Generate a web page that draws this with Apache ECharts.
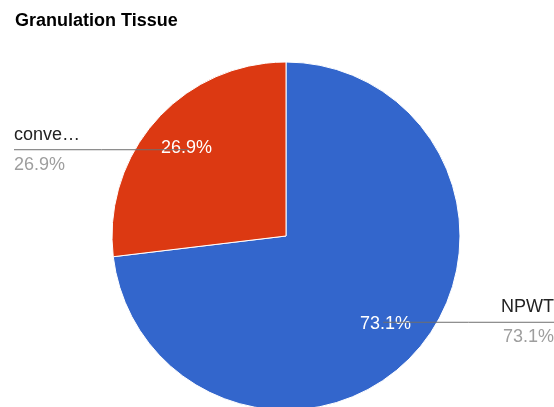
<!DOCTYPE html>
<html>
<head>
<meta charset="utf-8">
<script src="https://cdn.jsdelivr.net/npm/echarts@6/dist/echarts.min.js"></script>
<style>
  html, body { margin: 0; padding: 0; background: #fff; }
  #chart { width: 554px; height: 407px; }
</style>
</head>
<body>
<div id="chart"></div>
<script>
// Slice names and shares (percent of cases)
const categories = ['NPWT', 'conventional'];
const shares = [73.1, 26.9];
const sliceColors = ['#3366cc', '#dc3912'];

const FONT = '"Liberation Sans", Arial, sans-serif';
const CX = 286, CY = 236, R = 174;
const INNER = 86;                       // inner edge of the label ring
const ANCHOR_R = (INNER + R) / 2;       // where inside labels sit
const LEFT_X = 14, RIGHT_X = 554;       // outer label edges

const pieData = categories.map((name, i) => ({
  name,
  value: shares[i],
  itemStyle: { color: sliceColors[i] }
}));
const ghostData = categories.map((name, i) => ({ name, value: shares[i] }));

const total = shares.reduce((a, b) => a + b, 0);
// middle angle (degrees, counter-clockwise from 3 o'clock) of slice i,
// slices running clockwise from 12 o'clock
function midAngle(i) {
  let before = 0;
  for (let k = 0; k < i; k++) before += shares[k];
  return 90 - 360 * (before + shares[i] / 2) / total;
}
function anchorPoint(i) {
  const a = midAngle(i) * Math.PI / 180;
  return [CX + ANCHOR_R * Math.cos(a), CY - ANCHOR_R * Math.sin(a)];
}
function isRight(i) {
  return Math.cos(midAngle(i) * Math.PI / 180) > 0;
}
function shortName(name) {
  return name.length > 5 ? name.slice(0, 5) + '\u2026' : name;
}

// transparent copy of the pie that only carries labels
const ring = {
  type: 'pie',
  center: [CX, CY],
  startAngle: 90,
  clockwise: true,
  silent: true,
  avoidLabelOverlap: false,
  itemStyle: { color: 'rgba(0,0,0,0)', borderWidth: 0 },
  data: ghostData
};

const chart = echarts.init(document.getElementById('chart'), null, { renderer: 'canvas' });
chart.setOption({
  animation: false,
  backgroundColor: '#fff',
  title: {
    text: 'Granulation Tissue',
    left: 15,
    top: 12,
    padding: 0,
    textStyle: { fontFamily: FONT, fontSize: 18, fontWeight: 'bold', color: '#000' }
  },
  series: [
    {
      // the slices themselves
      type: 'pie',
      z: 2,
      center: [CX, CY],
      radius: [0, R],
      startAngle: 90,
      clockwise: true,
      silent: true,
      label: { show: false },
      labelLine: { show: false },
      itemStyle: { borderColor: '#fff', borderWidth: 1 },
      data: pieData
    },
    Object.assign({}, ring, {
      // white percentages inside the slices
      z: 3,
      radius: [INNER, R],
      label: {
        show: true,
        position: 'inside',
        formatter: p => p.percent.toFixed(1) + '%',
        fontFamily: FONT,
        fontSize: 18,
        color: '#fff',
        textBorderWidth: 0
      },
      labelLine: { show: false }
    }),
    Object.assign({}, ring, {
      // outer name / share labels with their leader lines
      z: 4,
      radius: [0, R],
      label: {
        show: true,
        position: 'outside',
        formatter: p => '{n|' + shortName(p.name) + '}\n{v|' + p.percent.toFixed(1) + '%}',
        rich: {
          n: { fontFamily: FONT, fontSize: 18, color: '#222', lineHeight: 30 },
          v: { fontFamily: FONT, fontSize: 18, color: '#9e9e9e', lineHeight: 30 }
        }
      },
      labelLine: {
        show: true,
        showAbove: true,
        smooth: false,
        lineStyle: { color: '#6f6f6f', width: 1 }
      },
      labelLayout: params => {
        const i = params.dataIndex;
        const [ax, ay] = anchorPoint(i);
        const ex = isRight(i) ? RIGHT_X : LEFT_X;
        return {
          x: ex,
          y: ay,
          align: isRight(i) ? 'right' : 'left',
          verticalAlign: 'middle',
          labelLinePoints: [[ax, ay], [(ax + ex) / 2, ay], [ex, ay]]
        };
      }
    })
  ]
});
</script>
</body>
</html>
